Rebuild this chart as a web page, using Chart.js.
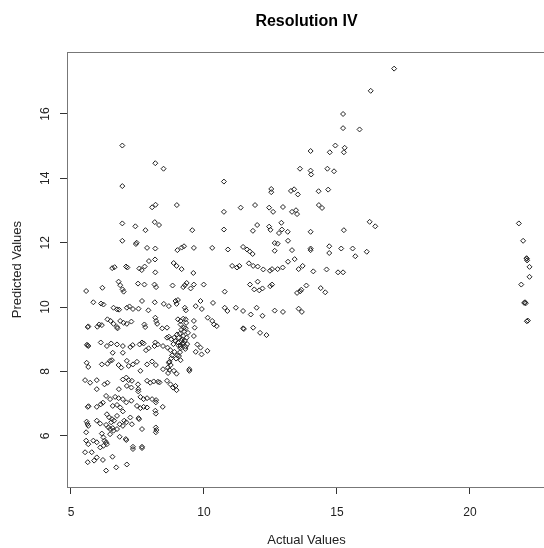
<!DOCTYPE html>
<html>
<head>
<meta charset="utf-8">
<script src="https://cdn.jsdelivr.net/npm/chart.js@4.4.0/dist/chart.umd.min.js"></script>
<style>
  html, body { margin: 0; padding: 0; background: #fff; }
  #wrap { width: 544px; height: 548px; overflow: hidden; }
</style>
</head>
<body>
<div id="wrap"><canvas id="chart" width="560" height="548"></canvas></div>
<script>
// Texts and ticks
const chartTitle = "Resolution IV";
const xTitle = "Actual Values";
const yTitle = "Predicted Values";
const xTicks = [5, 10, 15, 20];
const yTicks = [6, 8, 10, 12, 14, 16];
const xRange = [4.85, 22.86];
const yRange = [4.41, 17.92];

// [actual, predicted]
const points = [
  // upper part
  [6.93,15.02],[6.93,13.76],[8.17,14.47],[8.48,14.3],[10.75,13.9],
  [6.93,12.6],[7.42,12.51],[7.8,12.39],[8.15,12.64],[8.31,12.55],
  [8.05,13.1],[8.18,13.18],[8.98,13.17],[9.56,12.39],[10.75,12.96],[10.75,12.41],
  [11.38,13.09],[11.92,13.17],[12.0,12.55],[11.84,12.37],[12.45,13.09],[12.45,12.5],[12.5,12.4],[12.53,13.67],[12.53,13.57],
  [6.93,12.06],[7.47,12.0],[7.44,11.96],[7.86,11.84],[8.17,11.82],[9.0,11.77],[9.16,11.85],[9.25,11.89],[9.62,11.84],[10.31,11.84],[10.9,11.79],
  [11.47,11.87],[11.62,11.79],[11.72,11.73],[11.83,11.65],
  [6.55,11.21],[6.64,11.24],[7.07,11.26],[7.12,11.23],
  [7.57,11.2],[7.66,11.15],[7.77,11.26],[7.93,11.43],[8.16,11.48],[8.17,11.08],
  [8.86,11.37],[8.97,11.28],[9.16,11.18],[9.6,11.06],
  [11.06,11.28],[11.24,11.23],[11.33,11.28],
  [11.69,11.36],[11.85,11.28],[12.02,11.26],[12.23,11.17],[12.48,11.13],
  [17.15,17.41],[16.27,16.72],[15.23,16.0],[15.23,15.56],[15.85,15.52],
  [14.01,14.85],[14.73,14.81],[14.94,15.02],[15.29,14.95],[15.26,14.81],
  [13.61,14.3],[14.01,14.24],[14.03,14.12],[14.64,14.3],[14.89,14.22],
  [13.27,13.61],[13.39,13.66],[13.53,13.5],[14.31,13.6],[14.67,13.65],
  [12.97,13.11],[13.31,12.96],[13.46,13.01],[13.5,12.89],[14.32,13.17],[14.44,13.08],[12.6,12.96],
  [12.82,12.3],[12.93,12.41],[13.15,12.34],[12.91,12.62],[14.01,12.34],[15.26,12.39],[16.23,12.65],[16.44,12.51],
  [12.66,11.99],[12.77,11.97],[13.16,12.06],[13.31,11.77],[12.66,11.75],[14.01,11.82],[14.01,11.77],
  [14.71,11.89],[14.71,11.68],[15.16,11.82],[15.59,11.82],[15.69,11.58],[16.12,11.72],
  [12.56,11.18],[12.77,11.18],[12.96,11.23],[13.16,11.41],[13.41,11.49],[13.56,11.18],[13.71,11.28],[14.11,11.11],[14.61,11.17],[15.04,11.08],[15.23,11.08],
  [12.56,10.7],[13.5,10.44],[13.62,10.49],[13.66,10.54],[13.85,10.67],[14.39,10.59],[14.56,10.46],
  [12.66,9.89],[12.97,9.85],[13.56,9.95],[13.68,9.85],
  // column near 22
  [21.84,12.6],[22.0,12.06],[22.14,11.5],[22.15,11.45],[22.13,11.52],[22.24,11.25],
  [21.93,10.7],[22.24,10.94],[22.04,10.13],[22.07,10.15],[22.1,10.12],[22.14,9.56],[22.18,9.58],
  // dense part
  [5.57,10.5],[6.18,10.6],[6.79,10.79],[6.85,10.68],[6.94,10.55],[6.98,10.48],[7.52,10.73],[7.76,10.7],[8.14,10.7],[8.2,10.62],
  [8.82,10.67],[9.28,10.68],[9.22,10.62],[9.35,10.75],[9.5,10.58],[9.62,10.7],[9.99,10.7],[10.78,10.48],
  [11.73,10.7],[11.89,10.55],[12.02,10.79],[12.08,10.52],[12.2,10.58],[12.49,10.65],
  [5.84,10.15],[6.13,10.11],[6.22,10.08],[6.6,9.98],[6.73,9.93],[6.81,9.92],[7.1,9.98],[7.2,10.02],[7.33,9.94],[7.67,10.19],
  [7.54,9.95],[7.91,9.9],[8.15,10.15],[8.49,10.1],[8.68,10.03],[8.93,10.19],[8.97,10.1],[9.02,10.22],[9.28,9.98],[9.32,9.9],
  [9.69,10.03],[9.87,10.19],[9.92,9.94],[10.34,10.13],[10.78,9.98],[10.88,9.88],[11.2,9.98],[11.47,9.88],[11.98,9.98],[12.2,9.73],[11.76,9.77],
  [5.63,9.38],[5.65,9.4],[5.99,9.39],[6.06,9.46],[6.16,9.44],[6.37,9.62],[6.49,9.57],[6.6,9.48],[6.73,9.38],[6.75,9.34],
  [6.85,9.57],[6.98,9.51],[7.1,9.48],[7.27,9.55],[7.76,9.46],[7.79,9.38],[8.17,9.67],[8.2,9.57],[8.24,9.48],[8.43,9.34],
  [8.61,9.36],[9.02,9.62],[9.12,9.57],[9.22,9.64],[9.31,9.62],[9.33,9.51],[9.12,9.46],[9.24,9.36],[9.31,9.34],[9.62,9.57],
  [9.65,9.36],[10.14,9.67],[10.31,9.57],[10.38,9.46],[10.48,9.41],[11.47,9.34],[11.5,9.32],[11.85,9.36],[12.11,9.2],[12.35,9.13],
  [5.63,8.81],[5.6,8.83],[5.65,8.79],[6.12,8.9],[6.35,8.79],[6.51,8.87],[6.73,8.84],[6.57,8.58],[6.95,8.79],[6.95,8.58],
  [7.23,8.76],[7.32,8.82],[7.58,8.84],[7.67,8.9],[7.73,8.87],[7.82,8.66],[7.92,8.72],[8.14,8.79],[8.17,8.9],[8.26,8.84],
  [8.46,8.79],[8.63,8.74],[8.61,9.05],[8.68,9.08],[8.77,9.0],[8.88,9.05],[8.93,8.95],[9.02,8.9],
  [8.74,8.66],[8.89,8.61],[9.12,8.72],[9.12,8.79],[9.22,8.9],[9.28,8.95],[9.37,8.85],[9.31,8.77],
  [8.99,9.15],[9.09,9.17],[9.22,9.1],[9.35,9.05],[9.18,9.0],
  [9.62,9.1],[9.75,8.84],[9.87,8.74],[9.69,8.61],[9.91,8.53],[10.13,8.64],
  [9.05,9.05],[9.15,8.95],[9.2,8.85],[9.1,8.6],[9.0,8.5],[8.95,8.4],[9.25,9.25],[9.4,9.2],[9.05,8.8],[8.85,8.85],
  [9.3,8.7],[8.8,8.5],[8.7,8.3],[8.75,8.2],[8.7,8.05],[8.65,7.95],[9.15,9.3],
  [5.59,8.27],[5.65,8.14],[6.16,8.22],[6.37,8.24],[6.47,8.33],[6.54,8.35],[6.79,8.2],[6.89,8.12],[7.1,8.33],[7.17,8.17],
  [7.33,8.22],[7.48,8.3],[7.61,8.02],[7.86,8.22],[8.05,8.31],[8.19,8.2],[8.46,8.07],[8.64,8.12],[8.68,8.27],[8.77,8.41],
  [8.87,8.02],[8.97,7.93],[9.06,8.48],[9.12,8.35],[9.45,8.07],[9.45,8.02],
  [5.53,7.73],[5.72,7.65],[5.97,7.73],[5.97,7.45],[6.26,7.6],[6.37,7.65],[6.8,7.45],[6.95,7.75],[7.08,7.81],[7.17,7.73],
  [7.29,7.71],[7.1,7.55],[7.27,7.5],[7.52,7.6],[7.53,7.45],[7.53,7.38],[7.86,7.71],[7.98,7.65],[8.11,7.69],[8.27,7.68],
  [8.33,7.66],[8.61,7.71],[8.74,7.6],[8.84,7.5],[8.97,7.42],[8.93,7.55],
  [6.32,7.24],[6.47,7.14],[6.66,7.21],[6.79,7.17],[6.95,7.14],[7.08,7.04],[7.27,7.09],[7.61,7.21],[7.73,7.14],[7.86,7.17],
  [8.05,7.14],[8.2,7.11],[5.63,6.9],[5.66,6.92],[5.97,6.9],[6.12,6.98],[6.2,7.03],[6.57,6.93],[6.73,6.96],[6.85,6.88],
  [6.95,6.76],[7.48,6.93],[7.61,6.86],[7.73,6.9],[7.86,6.88],[8.19,7.04],[8.17,6.78],[8.19,6.69],[8.45,6.9],
  [6.35,6.67],[6.44,6.57],[6.54,6.52],[6.62,6.47],[6.51,6.42],[5.59,6.44],[5.62,6.37],[5.65,6.31],[5.97,6.47],[6.1,6.38],
  [6.32,6.34],[6.41,6.26],[6.47,6.21],[6.57,6.24],[6.73,6.62],[7.0,6.47],[7.08,6.42],[7.23,6.57],[7.29,6.36],[6.95,6.31],
  [7.54,6.55],[7.56,6.52],[7.67,6.21],[6.83,6.36],[6.73,6.21],[8.19,6.26],[8.21,6.18],[8.19,6.11],
  [5.57,6.11],[5.57,5.85],[5.65,5.74],[5.84,5.85],[5.97,5.8],[6.16,6.07],[6.22,5.95],[6.26,5.85],[6.32,5.8],[6.35,5.74],
  [6.1,5.64],[6.22,5.69],[6.47,6.05],[6.6,6.16],[6.83,5.97],[7.08,5.87],[7.06,5.9],[7.33,5.66],[7.33,5.59],[7.67,5.66],
  [7.67,5.62],[5.53,5.49],[5.78,5.49],[5.63,5.18],[5.87,5.23],[5.97,5.33],[6.2,5.25],[6.56,5.35],[6.32,4.92],[6.7,5.02],
  [7.1,5.11]
];

const FONT = "'Liberation Sans', Arial, sans-serif";

// box round the plot and y labels turned on their side, like R does
const boxPlugin = {
  id: "box",
  afterDraw(chart) {
    const { ctx, chartArea: a, scales } = chart;
    ctx.save();
    ctx.strokeStyle = "#777";
    ctx.lineWidth = 1;
    ctx.strokeRect(Math.round(a.left) + 0.5, Math.round(a.top) + 0.5,
      Math.round(a.right - a.left), Math.round(a.bottom - a.top));
    ctx.fillStyle = "#222";
    ctx.font = "12px " + FONT;
    ctx.textAlign = "center";
    ctx.textBaseline = "middle";
    scales.y.ticks.forEach((t) => {
      const y = scales.y.getPixelForValue(t.value);
      ctx.save();
      ctx.translate(a.left - 21, y);
      ctx.rotate(-Math.PI / 2);
      ctx.fillText(String(t.value), 0, 0);
      ctx.restore();
    });
    ctx.restore();
  },
};

const config = {
  type: "scatter",
  data: {
    datasets: [
      {
        data: points.map(([x, y]) => ({ x, y })),
        pointStyle: "rectRot",
        radius: 2.5,
        borderWidth: 1,
        borderColor: "#222",
        backgroundColor: "rgba(0,0,0,0)",
      },
    ],
  },
  options: {
    responsive: false,
    animation: false,
    layout: { padding: { top: 0, right: 14, bottom: 0, left: 0 } },
    plugins: {
      legend: { display: false },
      tooltip: { enabled: false },
      title: {
        display: true,
        text: chartTitle,
        fullSize: false,
        color: "#000",
        font: { family: FONT, size: 16, weight: "bold" },
        padding: { top: 12, bottom: 21 },
      },
    },
    scales: {
      x: {
        type: "linear",
        min: xRange[0],
        max: xRange[1],
        afterBuildTicks: (s) => { s.ticks = xTicks.map((v) => ({ value: v })); },
        afterFit: (s) => { s.height = 61; },
        border: { display: false },
        grid: { drawOnChartArea: false, drawTicks: true, tickLength: 7, color: "#333" },
        ticks: { color: "#222", font: { family: FONT, size: 12 }, padding: 11, maxRotation: 0 },
        title: {
          display: true,
          text: xTitle,
          color: "#222",
          font: { family: FONT, size: 13 },
          padding: { top: 0, bottom: 0 },
        },
      },
      y: {
        type: "linear",
        min: yRange[0],
        max: yRange[1],
        afterBuildTicks: (s) => { s.ticks = yTicks.map((v) => ({ value: v })); },
        afterFit: (s) => { s.width = 67; },
        border: { display: false },
        grid: { drawOnChartArea: false, drawTicks: true, tickLength: 7, color: "#333" },
        ticks: { display: false },
        title: {
          display: true,
          text: yTitle,
          color: "#222",
          font: { family: FONT, size: 13 },
          padding: { top: 10, bottom: 0 },
        },
      },
    },
  },
  plugins: [boxPlugin],
};

const ctx = document.querySelector("#chart").getContext("2d");
const chart = new Chart(ctx, config);
</script>
</body>
</html>
